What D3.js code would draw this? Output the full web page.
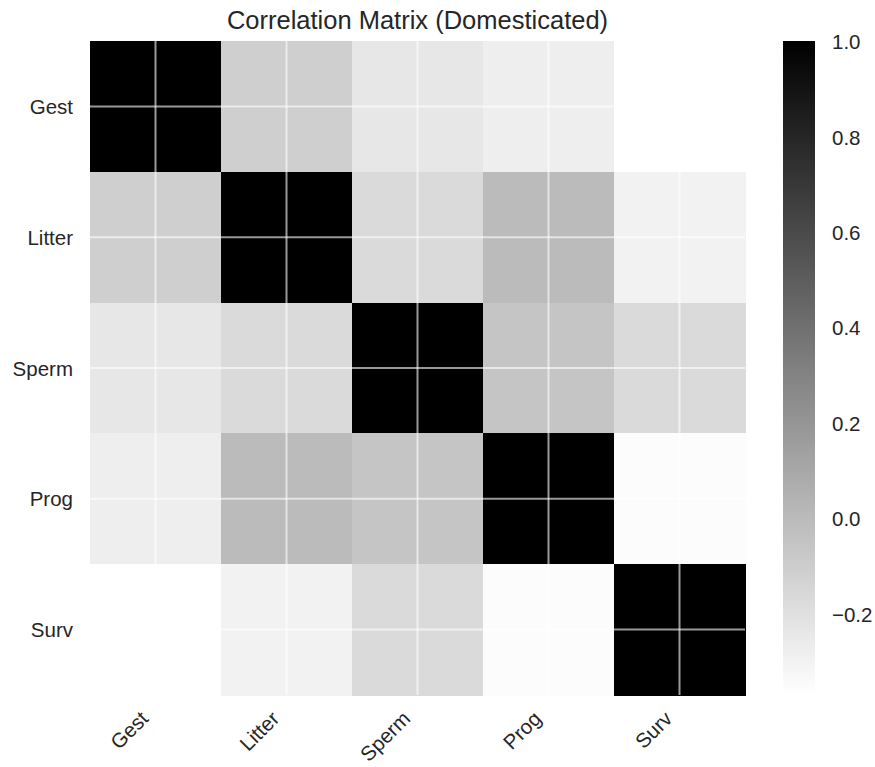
<!DOCTYPE html>
<html>
<head>
<meta charset="utf-8">
<script src="https://cdn.jsdelivr.net/npm/d3@7"></script>
<style>
  html, body { margin: 0; padding: 0; background: #fff; }
  text { font-family: "Liberation Sans", Arial, sans-serif; fill: #262626; }
</style>
</head>
<body>
<svg id="chart" width="875" height="767"></svg>
<script>
// Trait labels (row and column order of the matrix)
const traits = ["Gest", "Litter", "Sperm", "Prog", "Surv"];

// Pairwise correlations, one row per trait
const rowGest   = [1.00, -0.11, -0.24, -0.28, -0.37];
const rowLitter = [-0.11, 1.00, -0.17, -0.005, -0.30];
const rowSperm  = [-0.24, -0.17, 1.00, -0.06, -0.17];
const rowProg   = [-0.28, -0.005, -0.06, 1.00, -0.355];
const rowSurv   = [-0.37, -0.30, -0.17, -0.355, 1.00];
const matrix = [rowGest, rowLitter, rowSperm, rowProg, rowSurv];

// Colour bar tick values
const cbarTicks = [1.0, 0.8, 0.6, 0.4, 0.2, 0.0, -0.2];

const title = "Correlation Matrix (Domesticated)";

const svg = d3.select("#chart");

const plot = { left: 90, right: 745, top: 41, bottom: 695 };
const cbar = { left: 783, right: 815, top: 41, bottom: 695 };
const labelSize = 20.5;

const vmin = d3.min(matrix.flat());
const vmax = d3.max(matrix.flat());

const x = d3.scaleBand().domain(traits).range([plot.left, plot.right]);
const y = d3.scaleBand().domain(traits).range([plot.top, plot.bottom]);
const color = d3.scaleLinear().domain([vmin, vmax]).range(["#ffffff", "#000000"]);

const cells = [];
matrix.forEach((row, i) => row.forEach((v, j) => cells.push({ r: traits[i], c: traits[j], v })));

// Heatmap cells
svg.append("g")
  .selectAll("rect")
  .data(cells)
  .join("rect")
  .attr("x", d => x(d.c))
  .attr("y", d => y(d.r))
  .attr("width", x.bandwidth() + 0.5)
  .attr("height", y.bandwidth() + 0.5)
  .attr("fill", d => color(d.v))
  .attr("shape-rendering", "crispEdges");

// White grid lines through the cell centres
const grid = svg.append("g").attr("stroke", "#ffffff").attr("stroke-opacity", 0.6).attr("stroke-width", 2);
traits.forEach(t => {
  const cx = x(t) + x.bandwidth() / 2;
  const cy = y(t) + y.bandwidth() / 2;
  grid.append("line").attr("x1", cx).attr("x2", cx).attr("y1", plot.top).attr("y2", plot.bottom);
  grid.append("line").attr("y1", cy).attr("y2", cy).attr("x1", plot.left).attr("x2", plot.right);
});

// Row labels
const yAxis = d3.axisLeft(y).tickSize(0).tickPadding(17);
svg.append("g")
  .attr("transform", `translate(${plot.left},1)`)
  .call(yAxis)
  .call(g => g.select(".domain").remove())
  .selectAll("text")
  .attr("font-size", labelSize)
  .style("font-family", '"Liberation Sans", Arial, sans-serif')
  .attr("fill", "#262626");

// Column labels, rotated 45 degrees
const xAxis = d3.axisBottom(x).tickSize(0).tickPadding(0);
svg.append("g")
  .attr("transform", `translate(0,${plot.bottom})`)
  .call(xAxis)
  .call(g => g.select(".domain").remove())
  .selectAll("text")
  .attr("font-size", labelSize)
  .style("font-family", '"Liberation Sans", Arial, sans-serif')
  .attr("fill", "#262626")
  .attr("text-anchor", "end")
  .attr("dy", null)
  .attr("y", 0)
  .attr("transform", "translate(-6,25) rotate(-45)");

// Title
svg.append("text")
  .attr("x", (plot.left + plot.right) / 2)
  .attr("y", 29)
  .attr("text-anchor", "middle")
  .attr("font-size", 25.5)
  .text(title);

// Colour bar
const defs = svg.append("defs");
const grad = defs.append("linearGradient")
  .attr("id", "cbarGrad")
  .attr("x1", 0).attr("x2", 0).attr("y1", 1).attr("y2", 0);
d3.range(0, 1.0001, 0.1).forEach(t => {
  grad.append("stop")
    .attr("offset", t)
    .attr("stop-color", color(vmin + t * (vmax - vmin)));
});

svg.append("rect")
  .attr("x", cbar.left)
  .attr("y", cbar.top)
  .attr("width", cbar.right - cbar.left)
  .attr("height", cbar.bottom - cbar.top)
  .attr("fill", "url(#cbarGrad)");

const cy = d3.scaleLinear().domain([vmin, vmax]).range([cbar.bottom, cbar.top]);
const cAxis = d3.axisRight(cy)
  .tickValues(cbarTicks)
  .tickSize(0)
  .tickPadding(17)
  .tickFormat(d3.format(".1f"));
svg.append("g")
  .attr("transform", `translate(${cbar.right},1)`)
  .call(cAxis)
  .call(g => g.select(".domain").remove())
  .selectAll("text")
  .attr("font-size", labelSize)
  .style("font-family", '"Liberation Sans", Arial, sans-serif')
  .attr("fill", "#262626");
</script>
</body>
</html>
